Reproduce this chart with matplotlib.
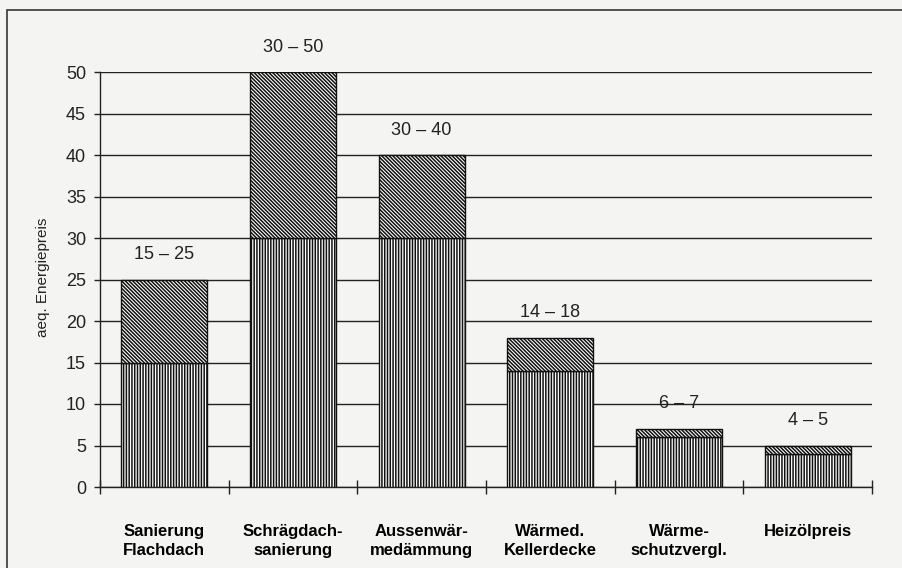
import matplotlib
matplotlib.use("Agg")
import matplotlib.pyplot as plt
from matplotlib.patches import Rectangle

# Daten
kategorien = ["Sanierung\nFlachdach", "Schrägdach-\nsanierung", "Aussenwär-\nmedämmung",
              "Wärmed.\nKellerdecke", "Wärme-\nschutzvergl.", "Heizölpreis"]
untergrenze = [15, 30, 30, 14, 6, 4]
obergrenze = [25, 50, 40, 18, 7, 5]
yticks = [0, 5, 10, 15, 20, 25, 30, 35, 40, 45, 50]

plt.rcParams['font.family'] = ['Liberation Sans', 'DejaVu Sans']
plt.rcParams['hatch.linewidth'] = 1.1
plt.rcParams['hatch.color'] = '#111111'

bg = '#f4f4f2'
fig = plt.figure(figsize=(9.02, 5.68), dpi=100, facecolor=bg)
ax = fig.add_axes([100/902, 1-487/568, 772/902, 415/568], facecolor=bg)

x = list(range(len(kategorien)))
diff = [o - u for u, o in zip(untergrenze, obergrenze)]

ax.bar(x, untergrenze, width=0.67, color='white', edgecolor='#111111',
       linewidth=1.0, hatch='||||||', zorder=3)
ax.bar(x, diff, bottom=untergrenze, width=0.67, color='white', edgecolor='#111111',
       linewidth=1.0, hatch='\\' * 9, zorder=3)

for i in x:
    ax.annotate("{} – {}".format(untergrenze[i], obergrenze[i]), (i, obergrenze[i]),
                xytext=(0, 18), textcoords='offset points', ha='center', va='center',
                fontsize=13, color='#222222')

ax.set_ylim(0, 50)
ax.set_xlim(-0.5, len(kategorien) - 0.5)
ax.set_yticks(yticks)
ax.tick_params(axis='y', direction='out', length=4, width=1, labelsize=13,
               pad=6, colors='#222222')
ax.yaxis.grid(True, color='#222222', linewidth=1.0)
ax.set_axisbelow(True)

# Striche zwischen den Kategorien
ax.set_xticks([i - 0.5 for i in range(len(kategorien) + 1)])
ax.set_xticklabels([])
ax.tick_params(axis='x', direction='inout', length=10, width=1, colors='#222222')
for i, k in enumerate(kategorien):
    ax.text(i, -0.09, k, transform=ax.get_xaxis_transform(), ha='center', va='top',
            fontsize=12, fontweight='bold', linespacing=1.3,
            family=['Liberation Sans Narrow', 'Liberation Sans', 'DejaVu Sans'])

for s in ['top', 'right']:
    ax.spines[s].set_visible(False)
for s in ['left', 'bottom']:
    ax.spines[s].set_color('#222222')
    ax.spines[s].set_linewidth(1.0)

fig.text(43/902, 1-277/568, "aeq. Energiepreis", rotation=90, ha='center', va='center',
         fontsize=11, color='#222222')

# Rahmen (nur linke und obere Kante sichtbar)
fig.patches.append(Rectangle((7/902, -0.2), 1.2, 1.2 - 10/568,
                             transform=fig.transFigure, fill=False,
                             edgecolor='#444444', linewidth=1.3))

fig.savefig("out.png", dpi=100, facecolor=bg)
